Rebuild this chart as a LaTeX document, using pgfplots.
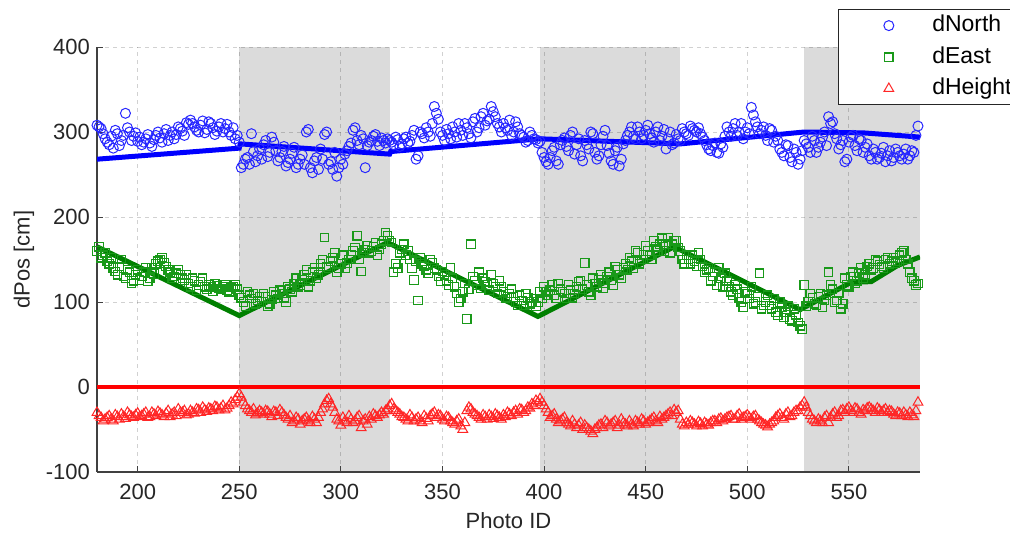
\documentclass[border=0pt]{standalone}
\usepackage{pgfplots}
\pgfplotsset{compat=1.18}
\usepackage{fontspec}
\setmainfont{Liberation Sans}
\definecolor{mblue}{rgb}{0,0,1}
\definecolor{mgreen}{rgb}{0,0.5,0}
\definecolor{mred}{rgb}{1,0,0}
\definecolor{mblueL}{rgb}{0.15,0.15,1}
\definecolor{mgreenL}{rgb}{0.1,0.6,0.1}
\definecolor{mredL}{rgb}{1,0.15,0.15}
\definecolor{patch}{rgb}{0.86,0.86,0.86}
\begin{document}
\begin{tikzpicture}
\begin{axis}[
  at={(0,0)}, anchor=south west,
  scale only axis, width=411.5pt, height=212.5pt,
  set layers,
  xmin=180, xmax=585, ymin=-100, ymax=400,
  xtick={200,250,...,550}, ytick={-100,0,...,400},
  grid=major,
  major grid style={dash pattern=on 2pt off 2pt, black, opacity=0.18, line width=0.4pt},
  axis x line*=bottom, axis y line*=left,
  axis line style={black!75, line width=0.6pt},
  tick style={black!75, line width=0.5pt},
  tick align=inside, major tick length=3pt,
  /pgf/number format/assume math mode=true,
  /pgf/number format/1000 sep={},
  tick label style={font=\fontsize{11}{13}\selectfont, black!85},
  xticklabel style={yshift=-2.5pt},
  label style={font=\fontsize{11}{13}\selectfont, black!85},
  xlabel={Photo ID}, ylabel={dPos [cm]},
  xlabel style={yshift=0.5pt},
  ylabel style={yshift=-1pt},
  legend cell align=left,
  legend image code/.code={\draw[#1] plot coordinates {(0pt,0pt)}; \path (-25pt,0pt) (21.5pt,0pt);},
  legend style={at={(0.9004,0.8635)}, anchor=south west, draw=black!85,
    fill=white, font=\fontsize{11.5}{13}\selectfont, inner xsep=0pt, inner ysep=1.5pt,
    nodes={inner xsep=0pt, inner ysep=1pt, text height=8.5pt, text depth=2.5pt},
    row sep=2.75pt},
]
\addplot[fill=patch, draw=none, forget plot, on layer=axis background] coordinates {(250,-100)(250,400)(324,400)(324,-100)} -- cycle;
\addplot[fill=patch, draw=none, forget plot, on layer=axis background] coordinates {(398,-100)(398,400)(467,400)(467,-100)} -- cycle;
\addplot[fill=patch, draw=none, forget plot, on layer=axis background] coordinates {(528,-100)(528,400)(585,400)(585,-100)} -- cycle;

\addplot[only marks, mark=o, mark size=2.5pt, color=mblueL, mark options={line width=0.5pt}] coordinates {
(180,308)(182,304)(184,292)(186,285)(188,281)(190,298)(192,290)(194,322)(196,300)(198,295)
(200,289)(202,285)(204,292)(206,287)(208,291)(210,300)(212,288)(214,303)(216,296)(218,292)
(220,306)(222,301)(224,311)(226,314)(228,306)(230,300)(232,313)(234,303)(236,310)(238,297)
(240,306)(242,300)(244,309)(246,296)(248,292)(250,288)(252,262)(254,270)(256,298)(258,265)
(260,280)(262,285)(264,271)(266,294)(268,278)(270,270)(272,283)(274,264)(276,275)(278,258)
(280,268)(282,262)(284,303)(286,252)(288,270)(290,280)(292,297)(294,262)(296,256)(298,248)
(300,268)(302,274)(304,283)(306,302)(308,290)(310,296)(312,258)(314,288)(316,295)(318,289)
(320,293)(322,287)(324,290)(326,285)(328,291)(330,286)(332,294)(334,289)(336,302)(338,272)
(340,298)(342,305)(344,295)(346,330)(348,315)(350,296)(352,303)(354,292)(356,300)(358,310)
(360,296)(362,305)(364,293)(366,316)(368,305)(370,322)(372,313)(374,330)(376,318)(378,306)
(380,310)(382,302)(384,296)(386,312)(388,298)(390,294)(392,290)(394,296)(396,291)(398,289)
(400,270)(402,262)(404,278)(406,266)(408,285)(410,293)(412,278)(414,300)(416,285)(418,272)
(420,290)(422,280)(424,298)(426,268)(428,285)(430,302)(432,275)(434,262)(436,282)(438,268)
(440,290)(442,300)(444,295)(446,306)(448,292)(450,302)(452,298)(454,288)(456,306)(458,295)
(460,280)(462,300)(464,287)(466,292)(468,304)(470,298)(472,307)(474,302)(476,305)(478,294)
(480,285)(482,278)(484,287)(486,275)(488,282)(490,306)(492,295)(494,310)(496,300)(498,292)
(500,305)(502,329)(504,312)(506,298)(508,306)(510,290)(512,302)(514,295)(516,280)(518,272)
(520,284)(522,265)(524,276)(526,268)(528,290)(530,282)(532,295)(534,276)(536,288)(538,300)
(540,318)(542,312)(544,292)(546,285)(548,265)(550,288)(552,296)(554,278)(556,290)(558,282)
(560,272)(562,280)(564,268)(566,275)(568,265)(570,278)(572,270)(574,276)(576,268)(578,280)
(580,272)(582,276)(584,307)
(181,306)(183,298)(185,288)(187,295)(189,302)(191,284)(193,296)(195,305)(197,290)(199,299)
(201,294)(203,288)(205,297)(207,283)(209,296)(211,293)(213,298)(215,290)(217,300)(219,297)
(221,304)(223,296)(225,309)(227,310)(229,302)(231,308)(233,299)(235,312)(237,305)(239,301)
(241,310)(243,304)(245,300)(247,305)(249,296)(251,258)(253,268)(255,262)(257,277)(259,272)
(261,268)(263,290)(265,276)(267,288)(269,266)(271,277)(273,260)(275,268)(277,282)(279,262)
(281,273)(283,300)(285,258)(287,266)(289,256)(291,268)(293,300)(295,265)(297,276)(299,258)
(301,262)(303,278)(305,287)(307,305)(309,285)(311,292)(313,284)(315,290)(317,297)(319,284)
(321,290)(323,292)(325,288)(327,294)(329,283)(331,292)(333,287)(335,296)(337,268)(339,300)
(341,293)(343,300)(345,310)(347,322)(349,300)(351,290)(353,298)(355,306)(357,294)(359,302)
(361,310)(363,298)(365,312)(367,300)(369,318)(371,308)(373,315)(375,324)(377,310)(379,300)
(381,305)(383,314)(385,300)(387,306)(389,296)(391,288)(393,300)(395,292)(397,287)(399,276)
(401,265)(403,270)(405,282)(407,262)(409,290)(411,283)(413,296)(415,274)(417,292)(419,266)
(421,285)(423,300)(425,276)(427,272)(429,295)(431,284)(433,266)(435,278)(437,260)(439,286)
(441,296)(443,306)(445,292)(447,300)(449,296)(451,308)(453,293)(455,300)(457,290)(459,303)
(461,292)(463,285)(465,297)(467,290)(469,300)(471,296)(473,304)(475,300)(477,298)(479,290)
(481,280)(483,284)(485,276)(487,286)(489,295)(491,300)(493,304)(495,296)(497,310)(499,300)
(501,298)(503,320)(505,306)(507,302)(509,296)(511,304)(513,288)(515,290)(517,276)(519,285)
(521,270)(523,280)(525,262)(527,278)(529,286)(531,276)(533,290)(535,282)(537,294)(539,284)
(541,310)(543,298)(545,280)(547,290)(549,268)(551,294)(553,284)(555,292)(557,276)(559,286)
(561,268)(563,276)(565,270)(567,282)(569,272)(571,266)(573,280)(575,272)(577,274)(579,268)
(581,278)(583,296)
};
\addlegendentry{dNorth}

\addplot[only marks, mark=square, mark size=2.1pt, draw=mgreenL, fill=none, mark options={solid, draw=mgreenL, fill=none, line width=0.6pt}] coordinates {
(180,160)(182,152)(184,158)(186,145)(188,140)(190,132)(192,150)(194,128)(196,135)(198,125)
(200,138)(202,130)(204,140)(206,128)(208,133)(210,148)(212,152)(214,142)(216,135)(218,130)
(220,138)(222,128)(224,132)(226,118)(228,125)(230,120)(232,128)(234,115)(236,118)(238,122)
(240,116)(242,118)(244,114)(246,117)(248,120)(250,108)(252,100)(254,112)(256,104)(258,98)
(260,106)(262,110)(264,95)(266,103)(268,108)(270,114)(272,105)(274,118)(276,112)(278,128)
(280,120)(282,132)(284,118)(286,135)(288,128)(290,145)(292,176)(294,140)(296,152)(298,135)
(300,145)(302,140)(304,150)(306,160)(308,178)(310,136)(312,162)(314,158)(316,165)(318,155)
(320,168)(322,182)(324,172)(326,135)(328,140)(330,162)(332,155)(334,150)(336,126)(338,102)
(340,145)(342,138)(344,150)(346,140)(348,130)(350,136)(352,125)(354,140)(356,118)(358,100)
(360,112)(362,80)(364,168)(366,125)(368,135)(370,128)(372,120)(374,132)(376,118)(378,125)
(380,112)(382,106)(384,115)(386,100)(388,108)(390,96)(392,105)(394,100)(396,95)(398,112)
(400,118)(402,108)(404,120)(406,104)(408,115)(410,110)(412,120)(414,105)(416,118)(418,125)
(420,146)(422,112)(424,128)(426,118)(428,132)(430,122)(432,135)(434,120)(436,138)(438,128)
(440,145)(442,152)(444,140)(446,158)(448,150)(450,166)(452,155)(454,172)(456,160)(458,175)
(460,168)(462,158)(464,172)(466,164)(468,150)(470,155)(472,145)(474,148)(476,158)(478,142)
(480,138)(482,125)(484,135)(486,140)(488,118)(490,125)(492,112)(494,120)(496,105)(498,94)
(500,110)(502,118)(504,100)(506,134)(508,96)(510,108)(512,92)(514,88)(516,100)(518,82)
(520,95)(522,78)(524,85)(526,72)(528,120)(530,100)(532,105)(534,96)(536,110)(538,102)
(540,135)(542,115)(544,102)(546,92)(548,128)(550,118)(552,135)(554,125)(556,140)(558,132)
(560,145)(562,140)(564,148)(566,142)(568,150)(570,145)(572,152)(574,148)(576,158)(578,150)
(580,135)(582,125)(584,122)
(181,165)(183,155)(185,148)(187,152)(189,136)(191,142)(193,130)(195,138)(197,122)(199,132)
(201,126)(203,135)(205,124)(207,140)(209,145)(211,150)(213,146)(215,138)(217,128)(219,134)
(221,132)(223,126)(225,122)(227,128)(229,114)(231,124)(233,118)(235,120)(237,113)(239,119)
(241,115)(243,120)(245,112)(247,118)(249,115)(251,105)(253,95)(255,108)(257,110)(259,102)
(261,100)(263,106)(265,98)(267,112)(269,104)(271,110)(273,100)(275,115)(277,122)(279,118)
(281,126)(283,138)(285,125)(287,140)(289,132)(291,150)(293,142)(295,148)(297,158)(299,140)
(301,155)(303,146)(305,156)(307,164)(309,150)(311,158)(313,166)(315,160)(317,170)(319,162)
(321,172)(323,178)(325,170)(327,145)(329,158)(331,168)(333,160)(335,140)(337,148)(339,152)
(341,142)(343,134)(345,146)(347,138)(349,124)(351,132)(353,120)(355,128)(357,110)(359,104)
(361,122)(363,115)(365,130)(367,120)(369,116)(371,124)(373,114)(375,122)(377,110)(379,118)
(381,104)(383,110)(385,106)(387,96)(389,102)(391,110)(393,98)(395,104)(397,100)(399,104)
(401,112)(403,114)(405,108)(407,122)(409,112)(411,104)(413,114)(415,110)(417,124)(419,115)
(421,120)(423,108)(425,122)(427,126)(429,116)(431,130)(433,126)(435,142)(437,132)(439,140)
(441,138)(443,148)(445,160)(447,145)(449,156)(451,160)(453,150)(455,165)(457,168)(459,160)
(461,176)(463,168)(465,172)(467,160)(469,145)(471,150)(473,155)(475,142)(477,150)(479,135)
(481,140)(483,130)(485,120)(487,128)(489,134)(491,118)(493,108)(495,115)(497,100)(499,112)
(501,104)(503,98)(505,106)(507,92)(509,100)(511,96)(513,104)(515,84)(517,94)(519,88)
(521,80)(523,92)(525,76)(527,68)(529,95)(531,110)(533,98)(535,106)(537,94)(539,108)
(541,120)(543,100)(545,110)(547,98)(549,120)(551,130)(553,122)(555,134)(557,128)(559,142)
(561,138)(563,150)(565,144)(567,140)(569,152)(571,148)(573,146)(575,155)(577,160)(579,145)
(581,128)(583,120)
};
\addlegendentry{dEast}

\addplot[only marks, mark=triangle, mark size=2.8pt, color=mredL, mark options={line width=0.5pt}] coordinates {
(180,-30)(182,-36)(184,-38)(186,-34)(188,-40)(190,-35)(192,-32)(194,-37)(196,-33)(198,-36)
(200,-31)(202,-34)(204,-30)(206,-35)(208,-32)(210,-29)(212,-33)(214,-31)(216,-35)(218,-30)
(220,-26)(222,-30)(224,-33)(226,-28)(228,-31)(230,-27)(232,-24)(234,-29)(236,-26)(238,-23)
(240,-27)(242,-22)(244,-25)(246,-18)(248,-15)(250,-8)(252,-18)(254,-26)(256,-30)(258,-33)
(260,-28)(262,-32)(264,-29)(266,-35)(268,-30)(270,-27)(272,-33)(274,-38)(276,-42)(278,-36)
(280,-44)(282,-38)(284,-40)(286,-35)(288,-42)(290,-30)(292,-20)(294,-14)(296,-24)(298,-38)
(300,-45)(302,-40)(304,-34)(306,-42)(308,-36)(310,-48)(312,-38)(314,-35)(316,-32)(318,-36)
(320,-30)(322,-28)(324,-22)(326,-26)(328,-30)(330,-35)(332,-38)(334,-33)(336,-40)(338,-36)
(340,-42)(342,-37)(344,-34)(346,-30)(348,-33)(350,-38)(352,-35)(354,-40)(356,-44)(358,-38)
(360,-50)(362,-28)(364,-26)(366,-32)(368,-36)(370,-33)(372,-38)(374,-35)(376,-32)(378,-36)
(380,-33)(382,-30)(384,-34)(386,-28)(388,-26)(390,-30)(392,-24)(394,-20)(396,-16)(398,-14)
(400,-22)(402,-30)(404,-34)(406,-38)(408,-40)(410,-36)(412,-44)(414,-40)(416,-48)(418,-42)
(420,-45)(422,-50)(424,-55)(426,-48)(428,-44)(430,-40)(432,-46)(434,-42)(436,-48)(438,-38)
(440,-44)(442,-40)(444,-46)(446,-42)(448,-38)(450,-44)(452,-40)(454,-36)(456,-42)(458,-38)
(460,-34)(462,-30)(464,-27)(466,-28)(468,-44)(470,-42)(472,-40)(474,-44)(476,-41)(478,-46)
(480,-44)(482,-42)(484,-40)(486,-38)(488,-40)(490,-36)(492,-34)(494,-38)(496,-32)(498,-36)
(500,-33)(502,-38)(504,-34)(506,-40)(508,-44)(510,-47)(512,-42)(514,-36)(516,-32)(518,-38)
(520,-30)(522,-34)(524,-28)(526,-24)(528,-18)(530,-30)(532,-38)(534,-42)(536,-40)(538,-36)
(540,-42)(542,-32)(544,-36)(546,-28)(548,-30)(550,-24)(552,-30)(554,-26)(556,-32)(558,-28)
(560,-24)(562,-28)(564,-25)(566,-30)(568,-26)(570,-28)(572,-32)(574,-30)(576,-34)(578,-33)
(580,-30)(582,-35)(584,-18)
(181,-34)(183,-40)(185,-36)(187,-38)(189,-33)(191,-38)(193,-35)(195,-30)(197,-35)(199,-33)
(201,-35)(203,-32)(205,-36)(207,-30)(209,-34)(211,-31)(213,-35)(215,-28)(217,-32)(219,-34)
(221,-30)(223,-28)(225,-32)(227,-30)(229,-26)(231,-30)(233,-27)(235,-25)(237,-28)(239,-24)
(241,-25)(243,-27)(245,-22)(247,-20)(249,-12)(251,-12)(253,-22)(255,-28)(257,-26)(259,-31)
(261,-30)(263,-28)(265,-32)(267,-29)(269,-34)(271,-30)(273,-36)(275,-34)(277,-40)(279,-38)
(281,-40)(283,-36)(285,-42)(287,-38)(289,-36)(291,-26)(293,-16)(295,-20)(297,-30)(299,-40)
(301,-36)(303,-42)(305,-38)(307,-40)(309,-34)(311,-40)(313,-44)(315,-38)(317,-34)(319,-33)
(321,-32)(323,-26)(325,-20)(327,-28)(329,-32)(331,-36)(333,-40)(335,-36)(337,-38)(339,-40)
(341,-34)(343,-40)(345,-32)(347,-36)(349,-34)(351,-40)(353,-36)(355,-42)(357,-40)(359,-46)
(361,-42)(363,-24)(365,-30)(367,-34)(369,-38)(371,-35)(373,-33)(375,-37)(377,-34)(379,-38)
(381,-35)(383,-32)(385,-30)(387,-32)(389,-27)(391,-28)(393,-25)(395,-22)(397,-18)(399,-18)
(401,-26)(403,-36)(405,-32)(407,-42)(409,-38)(411,-42)(413,-46)(415,-44)(417,-45)(419,-50)
(421,-48)(423,-52)(425,-50)(427,-45)(429,-48)(431,-42)(433,-44)(435,-40)(437,-45)(439,-42)
(441,-46)(443,-44)(445,-40)(447,-44)(449,-40)(451,-42)(453,-38)(455,-40)(457,-35)(459,-36)
(461,-32)(463,-34)(465,-30)(467,-38)(469,-46)(471,-44)(473,-42)(475,-46)(477,-43)(479,-42)
(481,-45)(483,-40)(485,-42)(487,-37)(489,-38)(491,-35)(493,-38)(495,-34)(497,-38)(499,-35)
(501,-36)(503,-35)(505,-38)(507,-42)(509,-45)(511,-44)(513,-40)(515,-34)(517,-36)(519,-32)
(521,-35)(523,-30)(525,-28)(527,-22)(529,-24)(531,-34)(533,-40)(535,-38)(537,-42)(539,-34)
(541,-36)(543,-30)(545,-34)(547,-27)(549,-26)(551,-28)(553,-25)(555,-30)(557,-27)(559,-25)
(561,-26)(563,-30)(565,-27)(567,-28)(569,-30)(571,-29)(573,-34)(575,-31)(577,-30)(579,-35)
(581,-33)(583,-28)
};
\addlegendentry{dHeight}

\addplot[mblue, line width=2.5pt, forget plot] coordinates {(180,268)(250,281)(250.5,286)(324,274)(324.5,277)(398,292)(467,286)(528,300)(557,299)(585,294)};
\addplot[mgreen, line width=2.5pt, forget plot] coordinates {(180,165)(250,84)(323,170)(397,83)(464,165)(526,91)(551,123)(561,124)(574,143)(585,153)};
\addplot[mred, line width=2pt, forget plot] coordinates {(180,0)(585,0)};
\end{axis}
\pgfresetboundingbox
\path[use as bounding box] (-48.5pt,-31.5pt) rectangle (456.5pt,236pt);
\end{tikzpicture}
\end{document}
